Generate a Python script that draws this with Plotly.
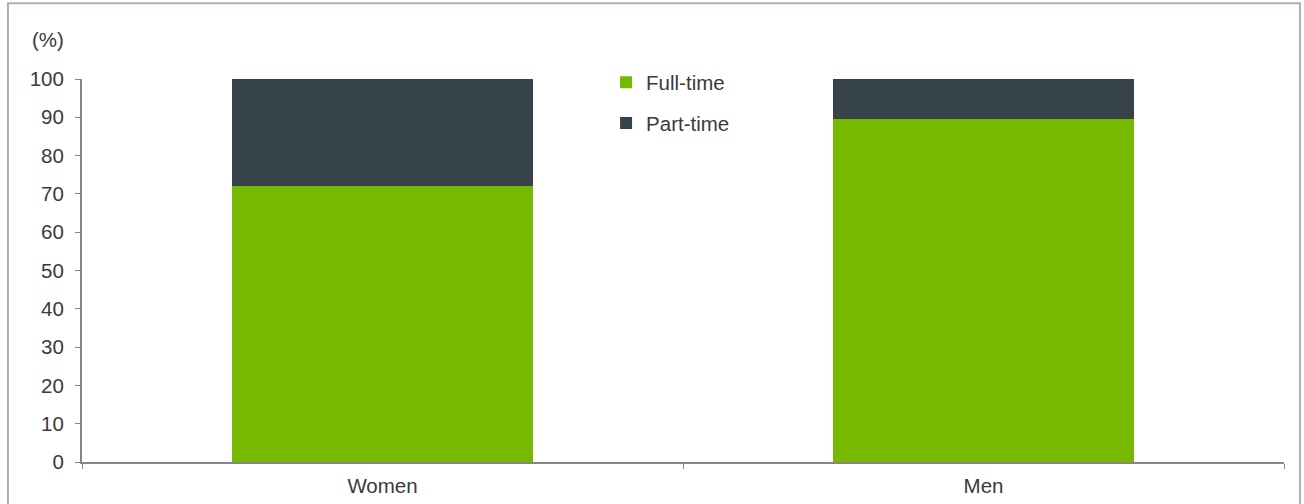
import plotly.graph_objects as go

categories = ["Women", "Men"]
full_time = [72.0, 89.5]
part_time = [28.0, 10.5]
y_ticks = [0, 10, 20, 30, 40, 50, 60, 70, 80, 90, 100]

GREEN = "#76b900"
DARK = "#36434b"
TXT = "#3a3a3a"
AX = "#868686"
FS = 20.5

fig = go.Figure()
fig.add_trace(go.Bar(x=categories, y=full_time, name="Full-time", marker_color=GREEN,
                     marker_line_width=0, legendgroup="a"))
fig.add_trace(go.Bar(x=categories, y=part_time, name="Part-time", marker_color=DARK,
                     marker_line_width=0, legendgroup="b"))

fig.update_layout(
    barmode="stack",
    bargap=0.5,
    width=1304, height=504,
    margin=dict(l=82, r=20, t=79, b=42, autoexpand=False),
    paper_bgcolor="white", plot_bgcolor="white",
    font=dict(family="Arial, Liberation Sans, sans-serif", size=FS, color=TXT),
    legend=dict(x=0.436, y=1.043, xanchor="left", yanchor="top",
                traceorder="grouped", tracegroupgap=11,
                font=dict(size=FS, color=TXT), itemwidth=30,
                bgcolor="rgba(0,0,0,0)"),
    xaxis=dict(showline=True, linecolor=AX, linewidth=2, ticks="outside",
               tickson="boundaries", ticklen=5, tickcolor=AX, tickwidth=1,
               showgrid=False, tickfont=dict(size=FS, color=TXT),
               ticklabelstandoff=4),
    yaxis=dict(range=[0, 100], tickvals=y_ticks, showline=True, linecolor=AX,
               linewidth=2, ticks="outside", ticklen=5, tickcolor=AX, showgrid=False,
               zeroline=False, tickfont=dict(size=FS, color=TXT),
               ticklabelstandoff=7),
    showlegend=True,
)

fig.add_annotation(text="(%)", xref="paper", yref="paper", x=-0.028, y=1.102,
                   xanchor="center", yanchor="middle",
                   showarrow=False, font=dict(size=FS, color=TXT))
fig.add_shape(type="rect", xref="paper", yref="paper", x0=-0.0616, x1=1.0133,
              y0=-0.2, y1=1.198, line=dict(color="#a9b1b3", width=2),
              fillcolor="rgba(0,0,0,0)", layer="below")

fig.write_html("out.html", config={"displayModeBar": False},
               post_script="document.body.style.margin='0';")
